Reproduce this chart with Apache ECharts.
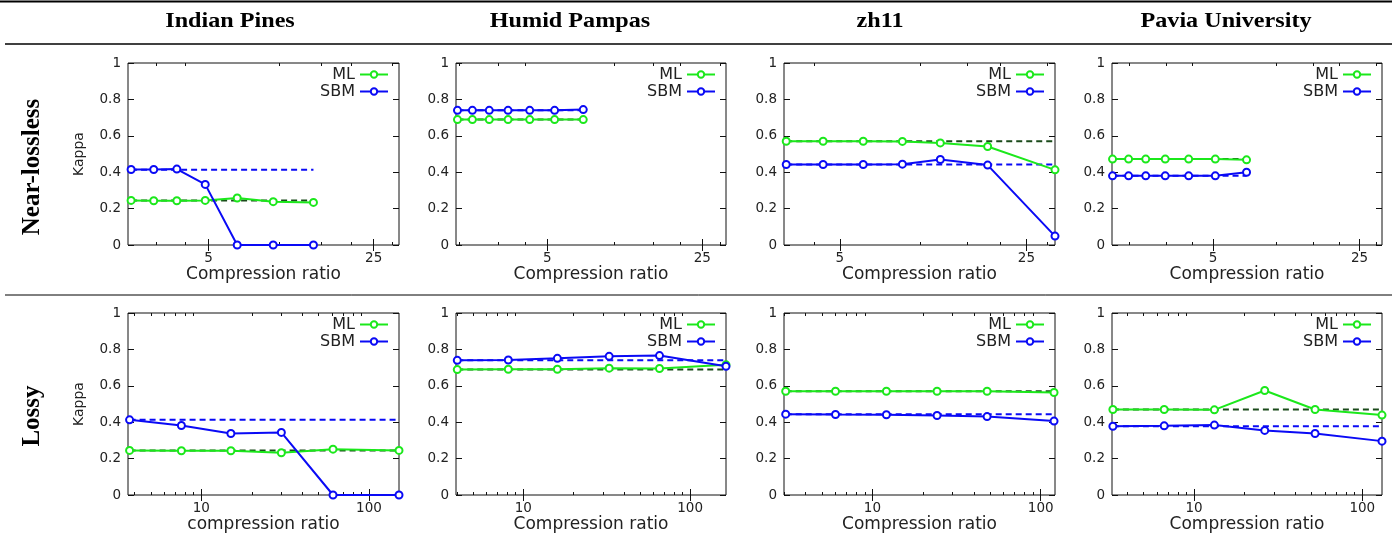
<!DOCTYPE html>
<html><head><meta charset="utf-8">
<script src="https://cdn.jsdelivr.net/npm/echarts@6/dist/echarts.min.js"></script>
<style>html,body{margin:0;padding:0;background:#fff}#c{width:1400px;height:535px}</style>
</head><body><div id="c"></div>
<script>
// ---------- data ----------
const columnTitles = ['Indian Pines', 'Humid Pampas', 'zh11', 'Pavia University'];
const rowTitles = ['Near-lossless', 'Lossy'];
const seriesNames = ['ML', 'SBM'];
const yAxisName = 'Kappa';
const xNameNL = 'Compression ratio';
const xNameLossyIndian = 'compression ratio';

const nlMajorTicks = [5, 25];
const nlMinorTicks = [2, 3, 4, 10, 15, 20, 30];
const lyMajorTicks = [10, 100];
const lyMinorTicks = [2, 3, 4, 5, 6, 7, 8, 9, 20, 30, 40, 50, 60, 70, 80, 90, 200];

// Near-lossless row
const nlIndianX   = [2.35, 2.93, 3.67, 4.84, 6.61, 9.39, 13.9];
const nlIndianML  = [0.245, 0.243, 0.243, 0.245, 0.258, 0.238, 0.234];
const nlIndianSBM = [0.415, 0.415, 0.417, 0.333, 0, 0, 0];
const nlIndianRef = [0.245, 0.414];

const nlPampasX   = [1.97, 2.30, 2.74, 3.33, 4.17, 5.40, 7.27];
const nlPampasML  = [0.689, 0.689, 0.689, 0.689, 0.689, 0.689, 0.689];
const nlPampasSBM = [0.740, 0.740, 0.740, 0.740, 0.740, 0.740, 0.744];
const nlPampasRef = [0.689, 0.740];

const nlZh11X   = [3.15, 4.33, 6.12, 8.58, 11.9, 17.9, 32.0];
const nlZh11ML  = [0.570, 0.570, 0.570, 0.569, 0.561, 0.541, 0.413];
const nlZh11SBM = [0.442, 0.442, 0.442, 0.444, 0.470, 0.439, 0.049];
const nlZh11Ref = [0.570, 0.442];

const nlPaviaX   = [1.66, 1.98, 2.39, 2.96, 3.83, 5.13, 7.23];
const nlPaviaML  = [0.472, 0.472, 0.472, 0.472, 0.472, 0.472, 0.468];
const nlPaviaSBM = [0.380, 0.380, 0.380, 0.380, 0.380, 0.380, 0.400];
const nlPaviaRef = [0.472, 0.380];

// Lossy row
const lyIndianX   = [3.73, 7.6, 15.0, 30.0, 61.0, 151];
const lyIndianML  = [0.245, 0.243, 0.243, 0.232, 0.252, 0.245];
const lyIndianSBM = [0.413, 0.382, 0.338, 0.344, 0, 0];
const lyIndianRef = [0.245, 0.413];

const lyPampasX   = [4.02, 8.13, 16.0, 32.7, 65.5, 164];
const lyPampasML  = [0.689, 0.691, 0.691, 0.697, 0.695, 0.715];
const lyPampasSBM = [0.740, 0.742, 0.751, 0.762, 0.766, 0.707];
const lyPampasRef = [0.689, 0.740];

const lyZh11X   = [3.05, 6.03, 12.1, 24.2, 48.0, 120];
const lyZh11ML  = [0.570, 0.570, 0.570, 0.570, 0.570, 0.563];
const lyZh11SBM = [0.444, 0.442, 0.441, 0.437, 0.431, 0.406];
const lyZh11Ref = [0.570, 0.444];

const lyPaviaX   = [3.29, 6.64, 13.2, 26.3, 52.4, 131];
const lyPaviaML  = [0.470, 0.470, 0.468, 0.574, 0.470, 0.439];
const lyPaviaSBM = [0.378, 0.380, 0.384, 0.355, 0.338, 0.296];
const lyPaviaRef = [0.470, 0.378];

// axis ranges
const nlXMin = [2.28, 1.94, 3.09, 1.65];
const nlXMax = [32, 32, 32, 32];
const lyXMin = [3.65, 3.95, 2.98, 3.25];
const lyXMax = [151, 164, 121.6, 131];

// ---------- layout ----------
const colLeft = [128, 456, 784, 1112];
const colWidth = [271, 270, 271, 270];
const rowTop = [63, 313];
const rowHeight = 182;
const GREEN = '#1be81b', BLUE = '#0a0af5', DARK = '#1a4a1a';
const SANS = 'DejaVu Sans';

const panels = [
  [nlIndianX, nlIndianML, nlIndianSBM, nlIndianRef],
  [nlPampasX, nlPampasML, nlPampasSBM, nlPampasRef],
  [nlZh11X, nlZh11ML, nlZh11SBM, nlZh11Ref],
  [nlPaviaX, nlPaviaML, nlPaviaSBM, nlPaviaRef],
  [lyIndianX, lyIndianML, lyIndianSBM, lyIndianRef],
  [lyPampasX, lyPampasML, lyPampasSBM, lyPampasRef],
  [lyZh11X, lyZh11ML, lyZh11SBM, lyZh11Ref],
  [lyPaviaX, lyPaviaML, lyPaviaSBM, lyPaviaRef]
];

const option = {
  animation: false,
  backgroundColor: '#fff',
  grid: [], xAxis: [], yAxis: [], series: [], legend: [], graphic: []
};

panels.forEach((p, g) => {
  const r = Math.floor(g / 4), c = g % 4;
  const [xs, ml, sbm, ref] = p;
  const lossy = r === 1;
  const base = lossy ? 10 : 5;
  const xmin = lossy ? lyXMin[c] : nlXMin[c];
  const xmax = lossy ? lyXMax[c] : nlXMax[c];
  const major = lossy ? lyMajorTicks : nlMajorTicks;
  const minor = lossy ? lyMinorTicks : nlMinorTicks;
  const xName = (lossy && c === 0) ? xNameLossyIndian : xNameNL;

  option.grid.push({
    left: colLeft[c], top: rowTop[r], width: colWidth[c], height: rowHeight,
    show: true, borderColor: '#111', borderWidth: 1, backgroundColor: 'transparent'
  });

  const xBase = {
    gridIndex: g, type: 'log', logBase: base, min: xmin, max: xmax,
    axisLine: { show: false }, splitLine: { show: false }, minorTick: { show: false }
  };
  option.xAxis.push(Object.assign({}, xBase, {
    position: 'bottom',
    axisTick: { show: true, inside: true, length: 6, customValues: major, lineStyle: { color: '#111' } },
    axisLabel: { customValues: major, margin: 6, fontSize: 13.5, color: '#222', fontFamily: SANS },
    name: xName, nameLocation: 'middle', nameGap: 20,
    nameTextStyle: { fontSize: 17, color: '#222', fontFamily: SANS }
  }));
  option.xAxis.push(Object.assign({}, xBase, {
    position: 'top',
    axisTick: { show: true, inside: true, length: 6, customValues: major, lineStyle: { color: '#111' } },
    axisLabel: { show: false }
  }));
  option.xAxis.push(Object.assign({}, xBase, {
    position: 'bottom',
    axisTick: { show: true, inside: true, length: 3, customValues: minor, lineStyle: { color: '#111' } },
    axisLabel: { show: false }
  }));
  option.xAxis.push(Object.assign({}, xBase, {
    position: 'top',
    axisTick: { show: true, inside: true, length: 3, customValues: minor, lineStyle: { color: '#111' } },
    axisLabel: { show: false }
  }));

  const yBase = {
    gridIndex: g, type: 'value', min: 0, max: 1, interval: 0.2,
    axisLine: { show: false }, splitLine: { show: false },
    axisTick: { show: true, inside: true, length: 6, lineStyle: { color: '#111' } }
  };
  option.yAxis.push(Object.assign({}, yBase, {
    position: 'left',
    axisLabel: { margin: 7, fontSize: 13.5, color: '#222', fontFamily: SANS },
    name: c === 0 ? yAxisName : '', nameLocation: 'middle', nameGap: 42, nameRotate: 90,
    nameTextStyle: { fontSize: 14, color: '#222', fontFamily: SANS }
  }));
  option.yAxis.push(Object.assign({}, yBase, { position: 'right', axisLabel: { show: false } }));

  const xi = 4 * g, yi = 2 * g;
  const last = xs.length - 1;
  option.series.push({
    type: 'line', name: 'ML ref', xAxisIndex: xi, yAxisIndex: yi, symbol: 'none', silent: true,
    data: [[xs[0], ref[0]], [xs[last], ref[0]]],
    lineStyle: { color: DARK, width: 2, type: [6, 4] }, z: 2
  });
  option.series.push({
    type: 'line', name: 'SBM ref', xAxisIndex: xi, yAxisIndex: yi, symbol: 'none', silent: true,
    data: [[xs[0], ref[1]], [xs[last], ref[1]]],
    lineStyle: { color: BLUE, width: 2, type: [6, 4] }, z: 2
  });
  option.series.push({
    type: 'line', name: seriesNames[0], xAxisIndex: xi, yAxisIndex: yi,
    data: xs.map((v, i) => [v, ml[i]]),
    symbol: 'emptyCircle', symbolSize: 7, color: GREEN,
    lineStyle: { width: 2, color: GREEN }, itemStyle: { color: GREEN, borderWidth: 1.8 }, z: 3
  });
  option.series.push({
    type: 'line', name: seriesNames[1], xAxisIndex: xi, yAxisIndex: yi,
    data: xs.map((v, i) => [v, sbm[i]]),
    symbol: 'emptyCircle', symbolSize: 7, color: BLUE,
    lineStyle: { width: 2, color: BLUE }, itemStyle: { color: BLUE, borderWidth: 1.8 }, z: 4
  });

  option.legend.push({
    data: seriesNames, orient: 'vertical', align: 'right', selectedMode: false,
    right: 1400 - (colLeft[c] + colWidth[c]) + 10, top: rowTop[r] + 3,
    itemWidth: 28, itemHeight: 8, itemGap: 0, padding: 0,
    textStyle: { fontSize: 16, color: '#222', fontFamily: SANS, lineHeight: 17 }
  });
});

// headers, row labels, rules
const headerX = [230, 570, 880, 1226];
columnTitles.forEach((t, i) => {
  option.graphic.push({
    type: 'text', x: headerX[i], y: 22, scaleX: 1.15, silent: true,
    style: { text: t, font: 'bold 21px "Liberation Serif"', fill: '#000',
      align: 'center', verticalAlign: 'middle', textAlign: 'center', textVerticalAlign: 'middle' }
  });
});
const rowLabelY = [167, 416];
rowTitles.forEach((t, i) => {
  option.graphic.push({
    type: 'text', x: 33, y: rowLabelY[i], rotation: Math.PI / 2, silent: true,
    style: { text: t, font: 'bold 25px "Liberation Serif"', fill: '#000',
      align: 'center', verticalAlign: 'middle', textAlign: 'center', textVerticalAlign: 'middle' }
  });
});
[[0, 1.5, 1392, 2], [5, 44, 1392, 1.5], [5, 295, 1392, 1]].forEach(([x1, y, x2, w]) => {
  option.graphic.push({
    type: 'line', silent: true, shape: { x1: x1, y1: y, x2: x2, y2: y },
    style: { stroke: '#000', lineWidth: w }
  });
});

const chart = echarts.init(document.getElementById('c'), null, { renderer: 'canvas' });
chart.setOption(option);
</script>
</body></html>
